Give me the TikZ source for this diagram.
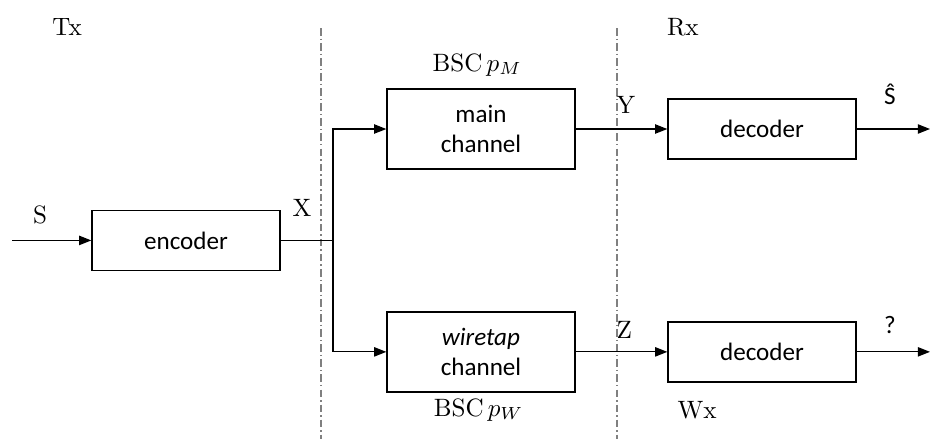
\documentclass[tikz,border=0pt]{standalone}
\usepackage{fontspec}
\usepackage{amsmath}
\usepackage{tikz}
\usetikzlibrary{arrows.meta}
\newfontfamily\boxfont{Carlito}

\begin{document}
\begin{tikzpicture}[
    block/.style={rectangle, draw, line width=0.6pt, minimum width=2.63cm, align=center, font=\boxfont\fontsize{10}{12}\selectfont},
    arrow/.style={-{Triangle[length=1.7mm, width=1.3mm]}, line width=0.5pt},
    wire/.style={line width=0.5pt},
    border/.style={gray, line width=0.6pt, dash pattern=on 3pt off 1.2pt on 0.6pt off 1.2pt},
    tag/.style={font=\fontsize{10}{12}\selectfont}
]
\useasboundingbox (0,0) rectangle (13.02,6.146);

% Tx / Rx borders
\draw[border] (4.494,5.754) -- (4.494,0);
\draw[border] (8.638,5.754) -- (8.638,0);
\node[tag] (tx) at (0.94,5.77) {Tx};
\node[tag] (rx) at (9.56,5.77) {Rx};

% Transmitter
\coordinate (src) at (0.168,2.78);
\node[block, minimum height=0.84cm] (enc) at (2.604,2.78) {encoder};
\coordinate (split) at (4.662,2.78);
\node[tag] at (0.56,3.14) {S};
\node[tag] at (4.23,3.24) {X};

\draw[arrow] (src) -- (enc);
\draw[wire] (enc) -- (split);

% Channels
\node[block, minimum height=1.12cm] (main) at (6.734,4.34) {main\\channel};
\node[block, minimum height=1.12cm] (tap) at (6.734,1.22) {\textit{wiretap}\\channel};
\node[tag] at (6.68,5.24) {BSC\,$p_M$};
\node[tag] at (6.70,0.41) {BSC\,$p_W$};

\draw[arrow] (split) |- (main);
\draw[arrow] (split) |- (tap);

% Receivers
\node[block, minimum height=0.84cm] (dec1) at (10.668,4.34) {decoder};
\node[block, minimum height=0.84cm] (dec2) at (10.668,1.22) {decoder};
\coordinate (out1) at (13.02,4.34);
\coordinate (out2) at (13.02,1.22);
\node[tag] at (8.76,4.68) {Y};
\node[tag] at (8.74,1.53) {Z};
\node[tag, font=\boxfont\fontsize{10}{12}\selectfont] at (12.46,4.82) {\^{S}};
\node[tag, font=\boxfont\fontsize{10}{12}\selectfont] at (12.46,1.60) {?};
\node[tag] at (9.76,0.41) {Wx};

\draw[arrow] (main) -- (dec1);
\draw[arrow] (tap) -- (dec2);
\draw[arrow] (dec1) -- (out1);
\draw[arrow] (dec2) -- (out2);

\end{tikzpicture}
\end{document}
